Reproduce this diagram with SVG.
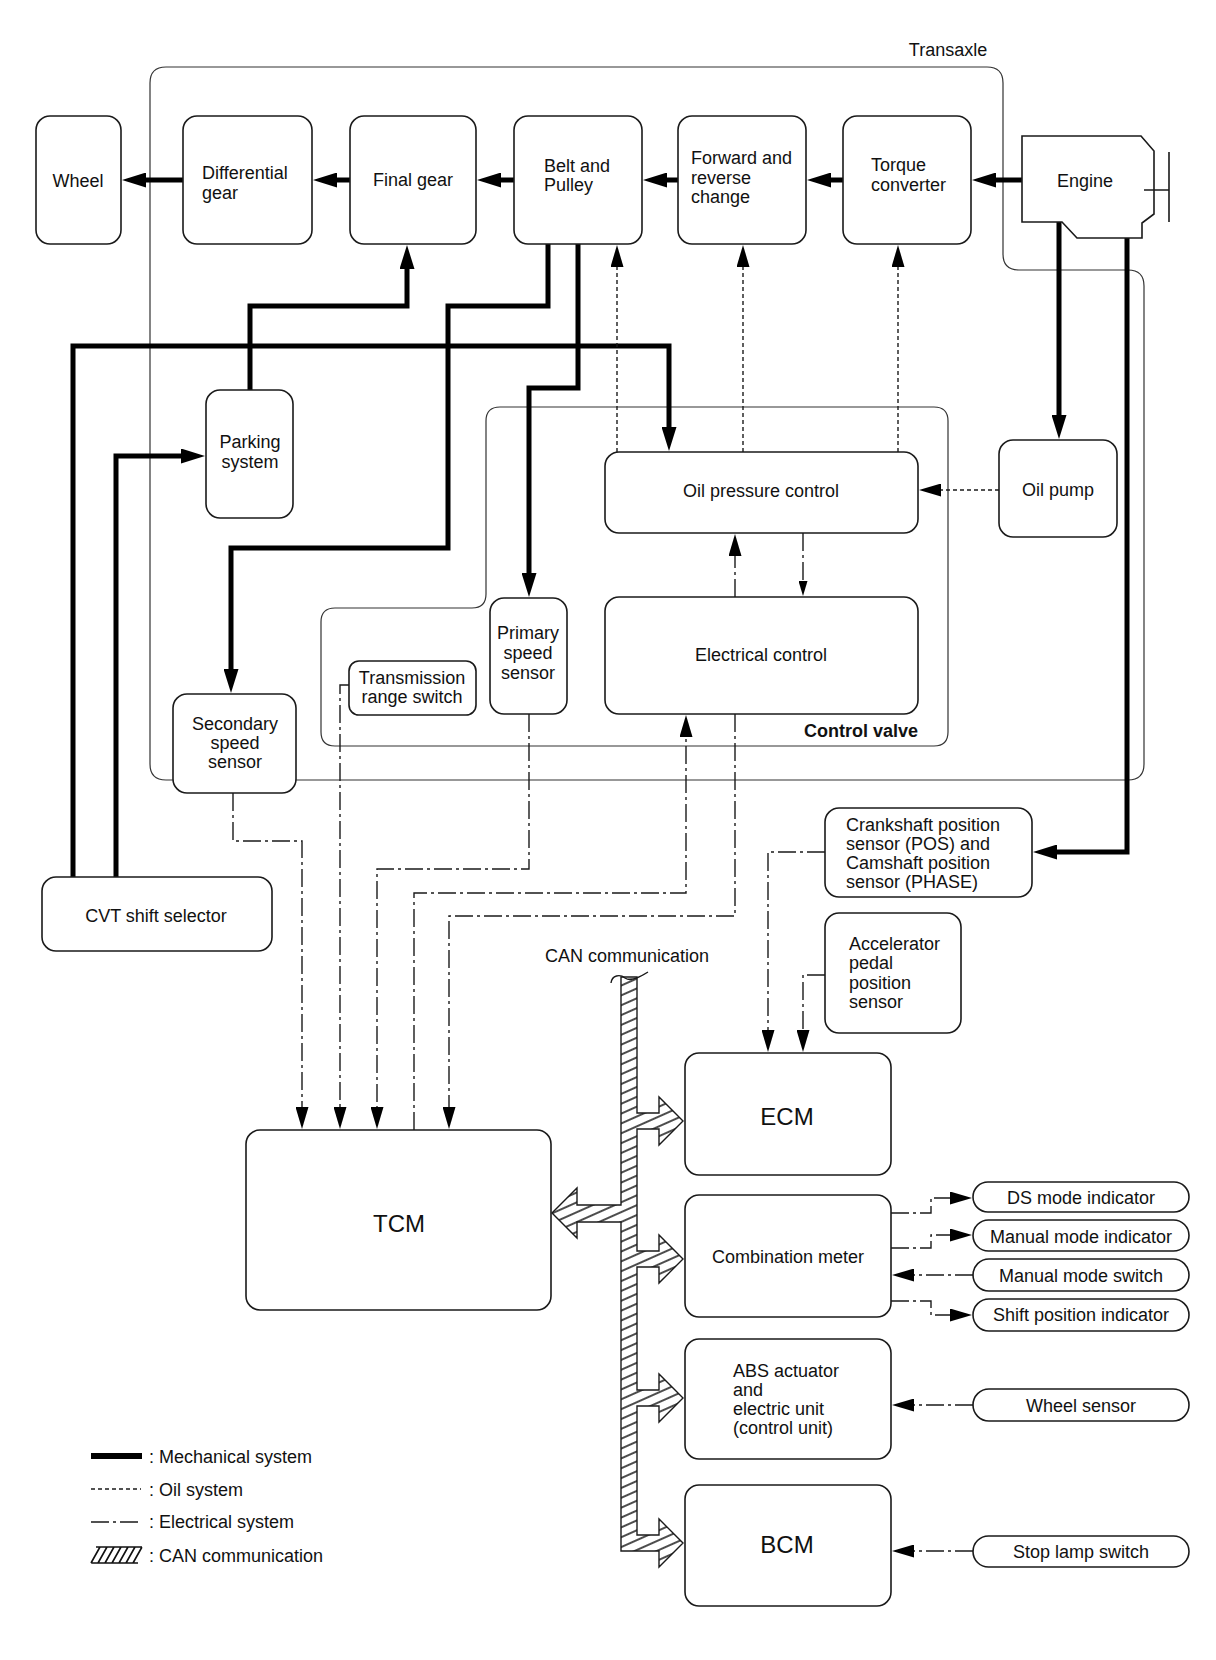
<svg xmlns="http://www.w3.org/2000/svg" width="1216" height="1660" viewBox="0 0 1216 1660">
<style>
.box{fill:#fff;stroke:#1a1a1a;stroke-width:1.6}
.frame{fill:none;stroke:#333;stroke-width:1.2}
.mech{fill:none;stroke:#000;stroke-width:5}
.oil{fill:none;stroke:#1a1a1a;stroke-width:1.4;stroke-dasharray:4 3}
.elec{fill:none;stroke:#1a1a1a;stroke-width:1.4;stroke-dasharray:18 4 3 4}
.t{font-family:"Liberation Sans",Arial,Helvetica,sans-serif;font-size:18px;fill:#111}
.c{text-anchor:middle}
.big{font-size:24px}
.b{font-weight:bold}
.hl{stroke:#111;stroke-width:1.6}
</style>
<defs>
<marker id="mA" viewBox="0 0 24 15" refX="1" refY="7.5" markerWidth="24" markerHeight="15" markerUnits="userSpaceOnUse" orient="auto"><path d="M0,0 L24,7.5 L0,15 Z" fill="#000"/></marker>
<marker id="tA" viewBox="0 0 22 13" refX="1" refY="6.5" markerWidth="22" markerHeight="13" markerUnits="userSpaceOnUse" orient="auto"><path d="M0,0 L22,6.5 L0,13 Z" fill="#000"/></marker>
<marker id="sA" viewBox="0 0 15 9" refX="1" refY="4.5" markerWidth="15" markerHeight="9" markerUnits="userSpaceOnUse" orient="auto"><path d="M0,0 L15,4.5 L0,9 Z" fill="#000"/></marker>
<pattern id="hatch" width="12" height="9" patternUnits="userSpaceOnUse" patternTransform="rotate(-24)"><rect width="12" height="9" fill="#fff"/><line x1="0" y1="1" x2="12" y2="1" stroke="#111" stroke-width="1.5"/></pattern>
</defs>
<rect width="1216" height="1660" fill="#fff"/>

<g id="containers">
<path class="frame" d="M166,67 H987 Q1003,67 1003,83 V254 Q1003,270 1019,270 H1128 Q1144,270 1144,286 V764 Q1144,780 1128,780 H166 Q150,780 150,764 V83 Q150,67 166,67 Z"/>
<text class="t c" x="948" y="56">Transaxle</text>
<path class="frame" d="M500,407 H934 Q948,407 948,421 V732 Q948,746 934,746 H335 Q321,746 321,732 V622 Q321,608 335,608 H472 Q486,608 486,594 V421 Q486,407 500,407 Z"/>
<text class="t b" x="804" y="737">Control valve</text>
</g>

<g id="connectors">
<path class="mech" marker-end="url(#mA)" d="M1022,180 H995"/>
<path class="mech" marker-end="url(#mA)" d="M843,180 H830"/>
<path class="mech" marker-end="url(#mA)" d="M678,180 H666"/>
<path class="mech" marker-end="url(#mA)" d="M514,180 H500"/>
<path class="mech" marker-end="url(#mA)" d="M350,180 H336"/>
<path class="mech" marker-end="url(#mA)" d="M183,180 H145"/>
<path class="mech" marker-end="url(#mA)" d="M548,244 V306 H448 V548 H231 V670"/>
<path class="mech" marker-end="url(#mA)" d="M578,244 V388 H529 V574"/>
<path class="mech" marker-end="url(#mA)" d="M250,390 V306 H407 V268"/>
<path class="mech" marker-end="url(#mA)" d="M73,877 V346 H669 V428"/>
<path class="mech" marker-end="url(#mA)" d="M116,877 V456 H182"/>
<path class="mech" marker-end="url(#mA)" d="M1059,222 V416"/>
<path class="mech" marker-end="url(#mA)" d="M1127,238 V852 H1056"/>

<path class="oil" marker-end="url(#tA)" d="M617,452 V266"/>
<path class="oil" marker-end="url(#tA)" d="M743,452 V266"/>
<path class="oil" marker-end="url(#tA)" d="M898,452 V266"/>
<path class="oil" marker-end="url(#tA)" d="M999,490 H940"/>

<path class="elec" marker-end="url(#tA)" d="M735,597 V555"/>
<path class="elec" marker-end="url(#sA)" d="M803,533 V582"/>
<path class="elec" marker-end="url(#tA)" d="M233,793 V841 H302 V1108"/>
<path class="elec" marker-end="url(#tA)" d="M349,685 H340 V1108"/>
<path class="elec" marker-end="url(#tA)" d="M529,714 V869 H377 V1108"/>
<path class="elec" marker-end="url(#tA)" d="M414,1130 V893 H686 V736"/>
<path class="elec" marker-end="url(#tA)" d="M735,714 V916 H449 V1108"/>
<path class="elec" marker-end="url(#tA)" d="M825,852 H768 V1031"/>
<path class="elec" marker-end="url(#tA)" d="M825,975 H803 V1031"/>
<path class="elec" marker-end="url(#tA)" d="M891,1213 H931 V1198 H951"/>
<path class="elec" marker-end="url(#tA)" d="M891,1248 H931 V1235 H951"/>
<path class="elec" marker-end="url(#tA)" d="M973,1275 H913"/>
<path class="elec" marker-end="url(#tA)" d="M891,1301 H931 V1315 H951"/>
<path class="elec" marker-end="url(#tA)" d="M973,1405 H913"/>
<path class="elec" marker-end="url(#tA)" d="M973,1551 H913"/>

<g id="can-bus">
<path d="M621,977 H637 V1113 H659 V1097 L683,1121 L659,1145 V1129 H637 V1251 H659 V1235 L683,1259 L659,1283 V1267 H637 V1390 H659 V1374 L683,1398 L659,1422 V1406 H637 V1535 H659 V1519 L683,1543 L659,1567 V1551 H621 V1222 H577 V1238 L552,1213 L577,1188 V1205 H621 Z" fill="url(#hatch)" stroke="#1a1a1a" stroke-width="1.4"/>
<path d="M611,983 C612,975 620,974 625,978 C631,982 640,977 648,972" fill="none" stroke="#1a1a1a" stroke-width="1.4"/>
<text class="t c" x="627" y="962">CAN communication</text>
</g>
</g>

<g id="wheel"><rect class="box" x="36" y="116" width="85" height="128" rx="14"/><text class="t c" x="78" y="187">Wheel</text></g>
<g id="differential-gear"><rect class="box" x="183" y="116" width="129" height="128" rx="14"/><text class="t" x="202" y="179">Differential</text><text class="t" x="202" y="199">gear</text></g>
<g id="final-gear"><rect class="box" x="350" y="116" width="126" height="128" rx="14"/><text class="t c" x="413" y="186">Final gear</text></g>
<g id="belt-pulley"><rect class="box" x="514" y="116" width="128" height="128" rx="14"/><text class="t" x="544" y="172">Belt and</text><text class="t" x="544" y="191">Pulley</text></g>
<g id="forward-reverse"><rect class="box" x="678" y="116" width="128" height="128" rx="14"/><text class="t" x="691" y="164">Forward and</text><text class="t" x="691" y="184">reverse</text><text class="t" x="691" y="203">change</text></g>
<g id="torque-converter"><rect class="box" x="843" y="116" width="128" height="128" rx="14"/><text class="t" x="871" y="171">Torque</text><text class="t" x="871" y="191">converter</text></g>
<g id="engine"><path class="box" d="M1022,136 H1141 L1154,151 V214 L1142,223 V238 H1077 L1062,222 H1022 Z"/><path d="M1144,190 H1169 M1169,152 V222" stroke="#1a1a1a" stroke-width="1.6" fill="none"/><text class="t c" x="1085" y="187">Engine</text></g>

<g id="parking-system"><rect class="box" x="206" y="390" width="87" height="128" rx="14"/><text class="t c" x="250" y="448">Parking</text><text class="t c" x="250" y="468">system</text></g>
<g id="oil-pressure-control"><rect class="box" x="605" y="452" width="313" height="81" rx="14"/><text class="t c" x="761" y="497">Oil pressure control</text></g>
<g id="oil-pump"><rect class="box" x="999" y="440" width="118" height="97" rx="14"/><text class="t c" x="1058" y="496">Oil pump</text></g>
<g id="electrical-control"><rect class="box" x="605" y="597" width="313" height="117" rx="14"/><text class="t c" x="761" y="661">Electrical control</text></g>
<g id="primary-speed-sensor"><rect class="box" x="490" y="598" width="77" height="116" rx="14"/><text class="t c" x="528" y="639">Primary</text><text class="t c" x="528" y="659">speed</text><text class="t c" x="528" y="679">sensor</text></g>
<g id="transmission-range-switch"><rect class="box" x="349" y="661" width="127" height="54" rx="10"/><text class="t c" x="412" y="684">Transmission</text><text class="t c" x="412" y="703">range switch</text></g>
<g id="secondary-speed-sensor"><rect class="box" x="173" y="694" width="123" height="99" rx="14"/><text class="t c" x="235" y="730">Secondary</text><text class="t c" x="235" y="749">speed</text><text class="t c" x="235" y="768">sensor</text></g>
<g id="cvt-shift-selector"><rect class="box" x="42" y="877" width="230" height="74" rx="14"/><text class="t c" x="156" y="922">CVT shift selector</text></g>
<g id="crankshaft-sensor"><rect class="box" x="825" y="808" width="207" height="89" rx="14"/><text class="t" x="846" y="831">Crankshaft position</text><text class="t" x="846" y="850">sensor (POS) and</text><text class="t" x="846" y="869">Camshaft position</text><text class="t" x="846" y="888">sensor (PHASE)</text></g>
<g id="accelerator-sensor"><rect class="box" x="825" y="913" width="136" height="120" rx="14"/><text class="t" x="849" y="950">Accelerator</text><text class="t" x="849" y="969">pedal</text><text class="t" x="849" y="989">position</text><text class="t" x="849" y="1008">sensor</text></g>
<g id="tcm"><rect class="box" x="246" y="1130" width="305" height="180" rx="14"/><text class="t c big" x="399" y="1232">TCM</text></g>
<g id="ecm"><rect class="box" x="685" y="1053" width="206" height="122" rx="14"/><text class="t c big" x="787" y="1125">ECM</text></g>
<g id="combination-meter"><rect class="box" x="685" y="1195" width="206" height="122" rx="14"/><text class="t c" x="788" y="1263">Combination meter</text></g>
<g id="abs"><rect class="box" x="685" y="1339" width="206" height="120" rx="14"/><text class="t" x="733" y="1377">ABS actuator</text><text class="t" x="733" y="1396">and</text><text class="t" x="733" y="1415">electric unit</text><text class="t" x="733" y="1434">(control unit)</text></g>
<g id="bcm"><rect class="box" x="685" y="1485" width="206" height="121" rx="14"/><text class="t c big" x="787" y="1553">BCM</text></g>

<g id="ds-mode-indicator"><rect class="box" x="973" y="1182" width="216" height="30" rx="15"/><text class="t c" x="1081" y="1204">DS mode indicator</text></g>
<g id="manual-mode-indicator"><rect class="box" x="973" y="1220" width="216" height="31" rx="15.5"/><text class="t c" x="1081" y="1243">Manual mode indicator</text></g>
<g id="manual-mode-switch"><rect class="box" x="973" y="1259" width="216" height="32" rx="16"/><text class="t c" x="1081" y="1282">Manual mode switch</text></g>
<g id="shift-position-indicator"><rect class="box" x="973" y="1299" width="216" height="32" rx="16"/><text class="t c" x="1081" y="1321">Shift position indicator</text></g>
<g id="wheel-sensor"><rect class="box" x="973" y="1389" width="216" height="32" rx="16"/><text class="t c" x="1081" y="1412">Wheel sensor</text></g>
<g id="stop-lamp-switch"><rect class="box" x="973" y="1536" width="216" height="31" rx="15.5"/><text class="t c" x="1081" y="1558">Stop lamp switch</text></g>

<g id="legend">
<rect x="91" y="1453" width="51" height="6" fill="#000"/>
<text class="t" x="149" y="1463">: Mechanical system</text>
<line class="oil" x1="91" y1="1489" x2="141" y2="1489"/>
<text class="t" x="149" y="1496">: Oil system</text>
<line class="elec" x1="91" y1="1522" x2="141" y2="1522"/>
<text class="t" x="149" y="1528">: Electrical system</text>
<path class="hl" fill="none" d="M96,1547 H142 M91,1563 H138 M91,1563 L100,1547 M98,1563 L107,1547 M105,1563 L114,1547 M112,1563 L121,1547 M119,1563 L128,1547 M126,1563 L135,1547 M133,1563 L142,1547"/>
<text class="t" x="149" y="1562">: CAN communication</text>
</g>
</svg>
